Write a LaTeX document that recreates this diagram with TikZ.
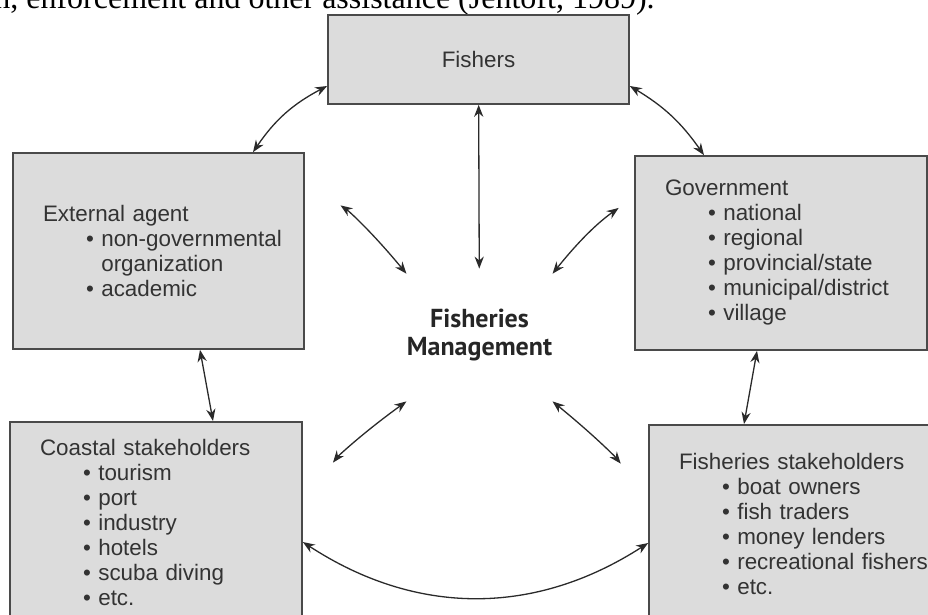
\documentclass[tikz,border=0pt]{standalone}
\usepackage{fontspec}
\setmainfont{Liberation Sans}
\newfontfamily\serifline{Liberation Serif}
\newfontfamily\mgmtfont{PT Sans}
\usetikzlibrary{positioning,arrows.meta}

\definecolor{boxgray}{HTML}{DCDCDC}
\definecolor{edgegray}{HTML}{4A4A4A}
\definecolor{textgray}{HTML}{333333}
\definecolor{arrowgray}{HTML}{2A2A2A}

% list entries inside the boxes
\newcommand{\itm}[1]{\mbox{\hspace*{21.5pt}\textbullet\ #1}}
\newcommand{\itmcont}[1]{\mbox{\hspace*{21.5pt}\phantom{\textbullet\ }#1}}

\begin{document}
\begin{tikzpicture}[x=0.5pt, y=-0.5pt,
    >={Stealth[length=6pt,width=4.6pt]},
    box/.style={
    % The shape:
        rectangle,
        draw=edgegray,
        line width=0.85pt,
        fill=boxgray,
        % The rest
        text=textgray,
        font=\fontsize{11.2}{12.5}\selectfont},
    listbox/.style={
        box,
        align=left,
        inner xsep=15pt},
    link/.style={
        <->,
        draw=arrowgray,
        line width=0.65pt}]

    \useasboundingbox (0,0) rectangle (928,615);

    \node (top_line) [anchor=base east, inner sep=0pt, font=\serifline\fontsize{16}{19}\selectfont] at (655,8.5)
        {n, enforcement and other assistance (Jentoft, 1989).};

    \node (fishers) [box, minimum width=150.5pt, minimum height=44.5pt] at (478.5,59.5) {Fishers};

    \node (ext_agent) [listbox, text width=115.5pt, minimum height=98pt] at (158.5,251) {External agent\\
        \itm{non-governmental}\\ \itmcont{organization}\\ \itm{academic}};

    \node (gov) [listbox, text width=116pt, minimum height=97pt] at (781,253) {Government\\
        \itm{national}\\ \itm{regional}\\ \itm{provincial/state}\\ \itm{municipal/district}\\ \itm{village}};

    \node (coastal) [listbox, text width=116pt, inner ysep=8.7pt, anchor=north] at (156,421) {Coastal stakeholders\\
        \itm{tourism}\\ \itm{port}\\ \itm{industry}\\ \itm{hotels}\\ \itm{scuba diving}\\ \itm{etc.}\strut};

    \node (fish_stake) [listbox, text width=123pt, inner ysep=14pt, anchor=north] at (802,424) {Fisheries stakeholders\\
        \itm{boat owners}\\ \itm{fish traders}\\ \itm{money lenders}\\ \itm{recreational fishers}\\ \itm{etc.}\strut};

    \node (fish_man) [minimum width=69.5pt, minimum height=66pt, inner sep=0pt, align=center, text=black!85,
        font=\mgmtfont\bfseries\fontsize{13}{14}\selectfont] at (479.5,335) {Fisheries\\Management};

    % around the top box
    \draw[link, bend right=14] ([yshift=-13.25pt]fishers.west) to ([xshift=47.25pt]ext_agent.north);
    \draw[link, bend left=12] ([yshift=-13.25pt]fishers.east) to ([xshift=-38.5pt]gov.north);
    \path (fishers) edge[link] (fish_man);

    % towards the middle
    \draw[link, bend left=8, shorten <=21.6pt] ([yshift=35pt]ext_agent.east) to (fish_man.140);
    \draw[link, bend right=8, shorten <=9.5pt] ([yshift=28pt]gov.west) to (fish_man.40);
    \draw[link, bend right=8, shorten >=24.4pt] (fish_man.south west) to ([yshift=-40pt]coastal.north east);
    \draw[link, bend left=6, shorten >=21.9pt] (fish_man.south east) to ([yshift=-36.9pt]fish_stake.north west);

    % sides
    \path ([xshift=20.75pt]ext_agent.south) edge[link] ([xshift=28.5pt]coastal.north);
    \path ([xshift=-12pt]gov.south) edge[link] ([xshift=-29pt]fish_stake.north);
    \draw[link, bend right=33] ([yshift=-60.5pt]coastal.north east) to ([yshift=-59.5pt]fish_stake.north west);
\end{tikzpicture}
\end{document}
